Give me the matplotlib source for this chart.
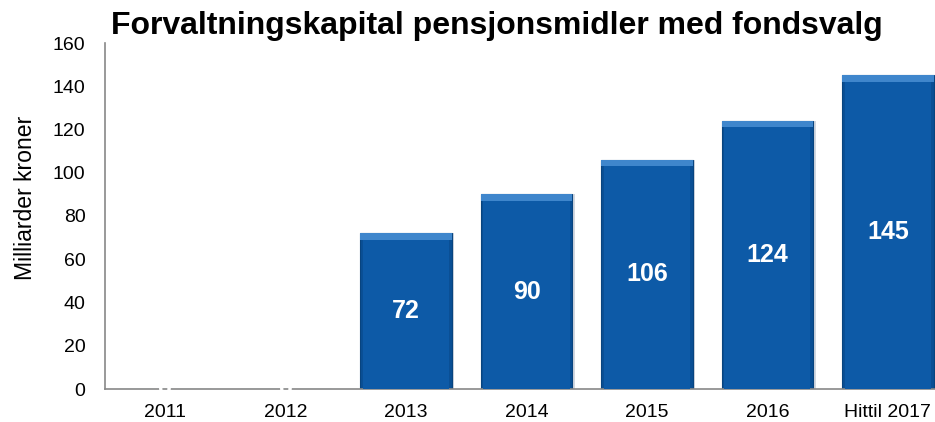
import matplotlib.pyplot as plt
import numpy as np

plt.rcParams['font.family'] = ['Liberation Sans', 'DejaVu Sans']

categories = ['2011', '2012', '2013', '2014', '2015', '2016', 'Hittil 2017']
values = [0, 0, 72, 90, 106, 124, 145]
title = 'Forvaltningskapital pensjonsmidler med fondsvalg'
ylabel = 'Milliarder kroner'

fig = plt.figure(figsize=(9.35, 4.22), dpi=100)
ax = fig.add_axes([105 / 935, 33 / 422, 843 / 935, 346 / 422])

x = np.arange(len(categories))
vals = np.array(values, dtype=float)
w = 0.76

# shadow, body, top bevel
ax.bar(x + 0.02, vals, width=w, color='#7f8fa6', alpha=0.35, zorder=1)
ax.bar(x, vals, width=w, color='#0a4f95', edgecolor='#08447f', linewidth=0.8, zorder=2)
bev = np.where(vals > 0, 3.0, 0)
ax.bar(x, bev, bottom=vals - bev, width=w, color='#3f86cc', linewidth=0, zorder=3)
ax.bar(x, vals - bev, width=w * 0.94, color='#0d5aa7', linewidth=0, zorder=3)

for xi, v in zip(x, values):
    ax.text(xi, v / 2, f'{v}', ha='center', va='center', color='white',
            fontsize=18, fontweight='bold', zorder=5)

ax.set_xlim(-0.5, len(categories) - 0.5)
ax.set_ylim(0, 160)
ax.set_yticks(np.arange(0, 161, 20))
ax.set_xticks(x)
ax.set_xticklabels(categories)
ax.tick_params(axis='both', length=0, labelsize=14)
ax.tick_params(axis='y', pad=14)
ax.tick_params(axis='x', pad=11)
for s in ['top', 'right']:
    ax.spines[s].set_visible(False)
for s in ['left', 'bottom']:
    ax.spines[s].set_color('#888888')
    ax.spines[s].set_linewidth(1.2)
fig.text(26 / 935, 1 - 198 / 422, ylabel, rotation=90, ha='center', va='center', fontsize=16.6)
fig.text(497 / 935, 1 - 26 / 422, title, ha='center', va='center', fontsize=23, fontweight='bold')

fig.savefig('out.png', dpi=100)
